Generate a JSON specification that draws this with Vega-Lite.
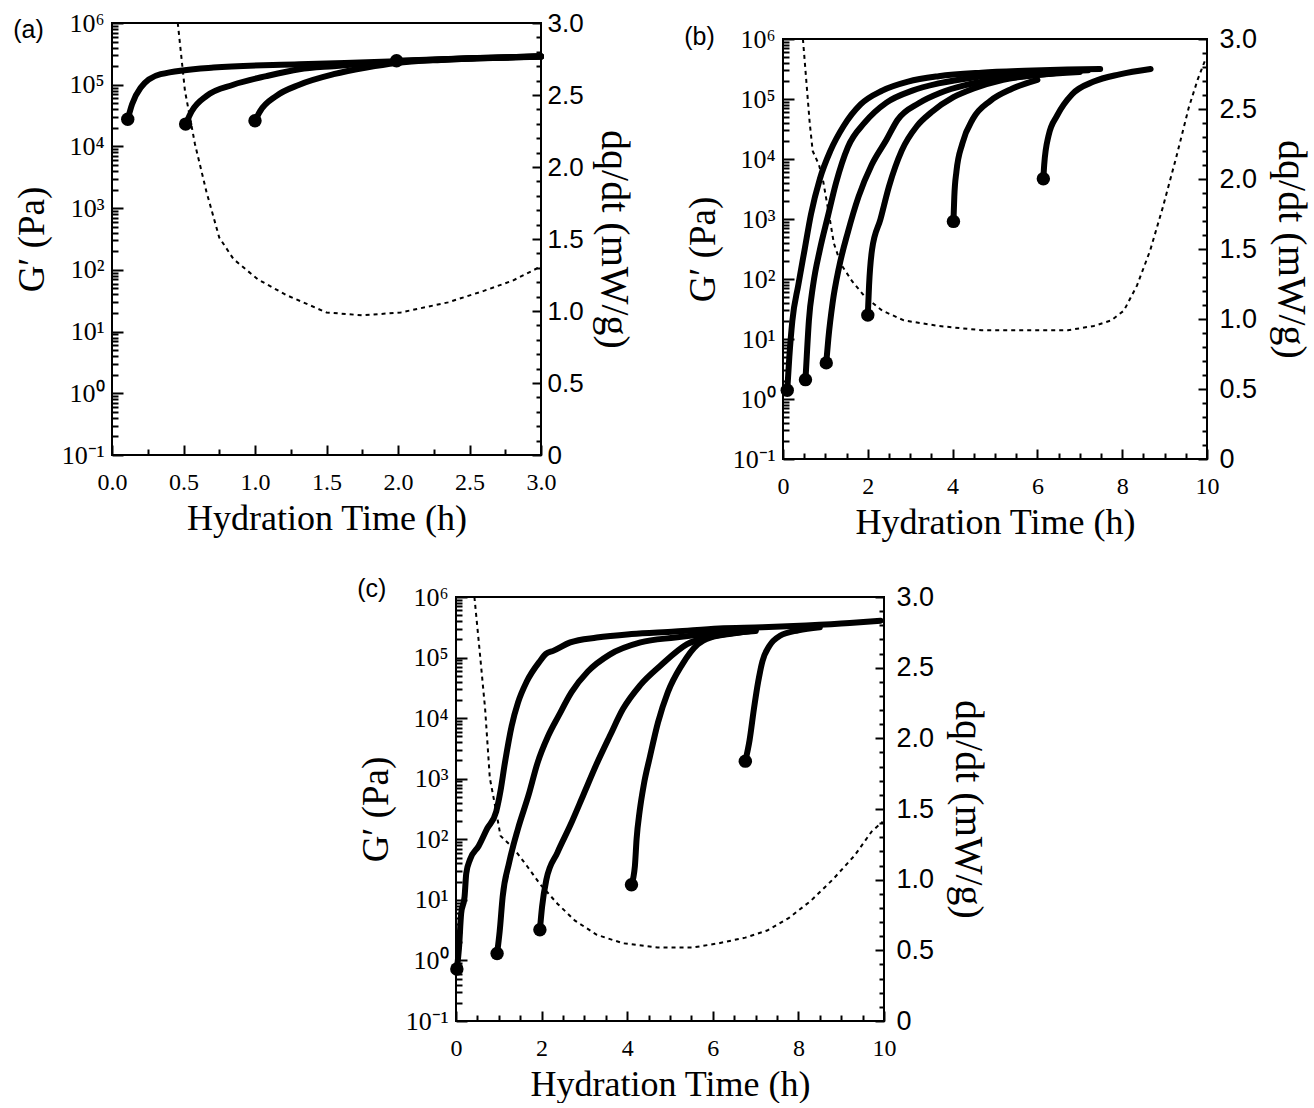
{
  "$schema": "https://vega.github.io/schema/vega-lite/v6.json",
  "background": "white",
  "padding": {"left": 12, "top": 9, "right": 2, "bottom": 0},
  "datasets": {
    "ga": [
      {"curve": "a1", "t": 0.11, "G": 27500}, {"curve": "a1", "t": 0.14, "G": 48000}, {"curve": "a1", "t": 0.2, "G": 89000}, {"curve": "a1", "t": 0.34, "G": 148000}, {"curve": "a1", "t": 0.71, "G": 190000}, {"curve": "a1", "t": 1.31, "G": 214000}, {"curve": "a1", "t": 1.99, "G": 240000}, {"curve": "a1", "t": 2.55, "G": 270000}, {"curve": "a1", "t": 3.0, "G": 288000},
      {"curve": "a2", "t": 0.515, "G": 23000}, {"curve": "a2", "t": 0.557, "G": 37000}, {"curve": "a2", "t": 0.662, "G": 66000}, {"curve": "a2", "t": 0.848, "G": 100000}, {"curve": "a2", "t": 1.08, "G": 138000}, {"curve": "a2", "t": 1.31, "G": 178000}, {"curve": "a2", "t": 1.55, "G": 200000}, {"curve": "a2", "t": 1.99, "G": 235000}, {"curve": "a2", "t": 2.55, "G": 268000}, {"curve": "a2", "t": 3.0, "G": 286000},
      {"curve": "a3", "t": 1.0, "G": 26000}, {"curve": "a3", "t": 1.035, "G": 37000}, {"curve": "a3", "t": 1.15, "G": 66000}, {"curve": "a3", "t": 1.31, "G": 100000}, {"curve": "a3", "t": 1.55, "G": 148000}, {"curve": "a3", "t": 1.78, "G": 190000}, {"curve": "a3", "t": 1.99, "G": 225000}, {"curve": "a3", "t": 2.3, "G": 252000}, {"curve": "a3", "t": 2.55, "G": 266000}, {"curve": "a3", "t": 3.0, "G": 285000},
      {"curve": "a4", "t": 1.99, "G": 245000}, {"curve": "a4", "t": 2.5, "G": 268000}, {"curve": "a4", "t": 3.0, "G": 288000}
    ],
    "qa": [
      {"t": 0.46, "q": 3.0}, {"t": 0.51, "q": 2.53}, {"t": 0.58, "q": 2.16}, {"t": 0.66, "q": 1.83}, {"t": 0.75, "q": 1.51}, {"t": 0.85, "q": 1.36}, {"t": 1.02, "q": 1.22}, {"t": 1.22, "q": 1.11}, {"t": 1.5, "q": 0.99}, {"t": 1.75, "q": 0.97}, {"t": 2.02, "q": 0.99}, {"t": 2.35, "q": 1.06}, {"t": 2.6, "q": 1.14}, {"t": 2.8, "q": 1.21}, {"t": 2.98, "q": 1.3}
    ],
    "gb": [
      {"curve": "b1", "t": 0.1, "G": 1.4}, {"curve": "b1", "t": 0.15, "G": 5.1}, {"curve": "b1", "t": 0.22, "G": 20}, {"curve": "b1", "t": 0.36, "G": 79}, {"curve": "b1", "t": 0.51, "G": 309}, {"curve": "b1", "t": 0.66, "G": 1200}, {"curve": "b1", "t": 0.87, "G": 4680}, {"curve": "b1", "t": 1.12, "G": 13800}, {"curve": "b1", "t": 1.43, "G": 35500}, {"curve": "b1", "t": 1.83, "G": 81300}, {"curve": "b1", "t": 2.34, "G": 138000}, {"curve": "b1", "t": 2.95, "G": 195000}, {"curve": "b1", "t": 3.67, "G": 240000}, {"curve": "b1", "t": 4.68, "G": 275000}, {"curve": "b1", "t": 5.7, "G": 295000}, {"curve": "b1", "t": 6.7, "G": 309000}, {"curve": "b1", "t": 7.48, "G": 316000},
      {"curve": "b2", "t": 0.53, "G": 2.1}, {"curve": "b2", "t": 0.56, "G": 5.1}, {"curve": "b2", "t": 0.61, "G": 20}, {"curve": "b2", "t": 0.71, "G": 79}, {"curve": "b2", "t": 0.87, "G": 309}, {"curve": "b2", "t": 1.06, "G": 1120}, {"curve": "b2", "t": 1.25, "G": 3980}, {"curve": "b2", "t": 1.53, "G": 15800}, {"curve": "b2", "t": 1.93, "G": 40700}, {"curve": "b2", "t": 2.44, "G": 87100}, {"curve": "b2", "t": 3.05, "G": 138000}, {"curve": "b2", "t": 3.67, "G": 182000}, {"curve": "b2", "t": 4.5, "G": 229000}, {"curve": "b2", "t": 5.5, "G": 263000}, {"curve": "b2", "t": 6.5, "G": 288000}, {"curve": "b2", "t": 7.2, "G": 302000},
      {"curve": "b3", "t": 1.02, "G": 4.0}, {"curve": "b3", "t": 1.07, "G": 10.2}, {"curve": "b3", "t": 1.17, "G": 40}, {"curve": "b3", "t": 1.32, "G": 155}, {"curve": "b3", "t": 1.53, "G": 603}, {"curve": "b3", "t": 1.78, "G": 2340}, {"curve": "b3", "t": 2.09, "G": 7940}, {"curve": "b3", "t": 2.44, "G": 20900}, {"curve": "b3", "t": 2.7, "G": 44700}, {"curve": "b3", "t": 3.2, "G": 85000}, {"curve": "b3", "t": 3.7, "G": 126000}, {"curve": "b3", "t": 4.3, "G": 170000}, {"curve": "b3", "t": 5.0, "G": 209000}, {"curve": "b3", "t": 5.8, "G": 245000}, {"curve": "b3", "t": 6.5, "G": 275000},
      {"curve": "b4", "t": 2.0, "G": 25}, {"curve": "b4", "t": 2.03, "G": 79}, {"curve": "b4", "t": 2.1, "G": 309}, {"curve": "b4", "t": 2.3, "G": 1000}, {"curve": "b4", "t": 2.5, "G": 3500}, {"curve": "b4", "t": 2.8, "G": 13800}, {"curve": "b4", "t": 3.16, "G": 35500}, {"curve": "b4", "t": 3.5, "G": 60000}, {"curve": "b4", "t": 4.02, "G": 107000}, {"curve": "b4", "t": 4.48, "G": 148000}, {"curve": "b4", "t": 5.19, "G": 209000}, {"curve": "b4", "t": 6.0, "G": 251000}, {"curve": "b4", "t": 7.0, "G": 282000},
      {"curve": "b5", "t": 4.02, "G": 912}, {"curve": "b5", "t": 4.04, "G": 2340}, {"curve": "b5", "t": 4.09, "G": 6170}, {"curve": "b5", "t": 4.23, "G": 18200}, {"curve": "b5", "t": 4.48, "G": 46800}, {"curve": "b5", "t": 4.89, "G": 93300}, {"curve": "b5", "t": 5.4, "G": 148000}, {"curve": "b5", "t": 6.0, "G": 209000},
      {"curve": "b6", "t": 6.14, "G": 4680}, {"curve": "b6", "t": 6.16, "G": 7940}, {"curve": "b6", "t": 6.26, "G": 24000}, {"curve": "b6", "t": 6.47, "G": 53700}, {"curve": "b6", "t": 6.82, "G": 120000}, {"curve": "b6", "t": 7.33, "G": 195000}, {"curve": "b6", "t": 7.94, "G": 257000}, {"curve": "b6", "t": 8.67, "G": 316000}
    ],
    "qb": [
      {"t": 0.47, "q": 3.0}, {"t": 0.55, "q": 2.7}, {"t": 0.63, "q": 2.4}, {"t": 0.7, "q": 2.2}, {"t": 0.85, "q": 2.1}, {"t": 0.95, "q": 1.98}, {"t": 1.1, "q": 1.72}, {"t": 1.2, "q": 1.54}, {"t": 1.37, "q": 1.39}, {"t": 1.63, "q": 1.27}, {"t": 1.93, "q": 1.16}, {"t": 2.34, "q": 1.06}, {"t": 2.85, "q": 0.99}, {"t": 3.67, "q": 0.95}, {"t": 4.68, "q": 0.92}, {"t": 5.7, "q": 0.92}, {"t": 6.72, "q": 0.92}, {"t": 7.33, "q": 0.95}, {"t": 7.74, "q": 0.99}, {"t": 8.04, "q": 1.06}, {"t": 8.35, "q": 1.24}, {"t": 8.66, "q": 1.49}, {"t": 8.96, "q": 1.8}, {"t": 9.27, "q": 2.15}, {"t": 9.57, "q": 2.51}, {"t": 9.78, "q": 2.71}, {"t": 9.97, "q": 2.86}
    ],
    "gc": [
      {"curve": "c1", "t": 0.02, "G": 0.72}, {"curve": "c1", "t": 0.07, "G": 1.6}, {"curve": "c1", "t": 0.12, "G": 5.9}, {"curve": "c1", "t": 0.2, "G": 11.2}, {"curve": "c1", "t": 0.24, "G": 27.5}, {"curve": "c1", "t": 0.33, "G": 46.8}, {"curve": "c1", "t": 0.53, "G": 77.6}, {"curve": "c1", "t": 0.73, "G": 151}, {"curve": "c1", "t": 0.94, "G": 288}, {"curve": "c1", "t": 1.04, "G": 631}, {"curve": "c1", "t": 1.14, "G": 1780}, {"curve": "c1", "t": 1.3, "G": 7410}, {"curve": "c1", "t": 1.45, "G": 18200}, {"curve": "c1", "t": 1.65, "G": 39800}, {"curve": "c1", "t": 1.96, "G": 87100}, {"curve": "c1", "t": 2.1, "G": 115000}, {"curve": "c1", "t": 2.27, "G": 129000}, {"curve": "c1", "t": 2.67, "G": 178000}, {"curve": "c1", "t": 3.29, "G": 214000}, {"curve": "c1", "t": 4.1, "G": 245000}, {"curve": "c1", "t": 5.12, "G": 269000}, {"curve": "c1", "t": 6.14, "G": 302000}, {"curve": "c1", "t": 7.16, "G": 316000}, {"curve": "c1", "t": 8.18, "G": 339000}, {"curve": "c1", "t": 9.2, "G": 372000}, {"curve": "c1", "t": 9.92, "G": 407000},
      {"curve": "c2", "t": 0.96, "G": 1.3}, {"curve": "c2", "t": 1.02, "G": 3.0}, {"curve": "c2", "t": 1.09, "G": 11.2}, {"curve": "c2", "t": 1.24, "G": 40.7}, {"curve": "c2", "t": 1.45, "G": 151}, {"curve": "c2", "t": 1.7, "G": 550}, {"curve": "c2", "t": 1.9, "G": 1780}, {"curve": "c2", "t": 2.15, "G": 5010}, {"curve": "c2", "t": 2.4, "G": 11000}, {"curve": "c2", "t": 2.7, "G": 26900}, {"curve": "c2", "t": 3.08, "G": 58900}, {"curve": "c2", "t": 3.59, "G": 112000}, {"curve": "c2", "t": 4.31, "G": 178000}, {"curve": "c2", "t": 5.12, "G": 214000}, {"curve": "c2", "t": 6.0, "G": 251000}, {"curve": "c2", "t": 7.0, "G": 288000},
      {"curve": "c3", "t": 1.96, "G": 3.2}, {"curve": "c3", "t": 2.01, "G": 7.6}, {"curve": "c3", "t": 2.11, "G": 21.4}, {"curve": "c3", "t": 2.37, "G": 60.3}, {"curve": "c3", "t": 2.67, "G": 170}, {"curve": "c3", "t": 2.98, "G": 550}, {"curve": "c3", "t": 3.29, "G": 1780}, {"curve": "c3", "t": 3.59, "G": 5010}, {"curve": "c3", "t": 3.9, "G": 14100}, {"curve": "c3", "t": 4.3, "G": 34700}, {"curve": "c3", "t": 4.8, "G": 75900}, {"curve": "c3", "t": 5.4, "G": 166000}, {"curve": "c3", "t": 6.0, "G": 224000}, {"curve": "c3", "t": 7.0, "G": 275000},
      {"curve": "c4", "t": 4.1, "G": 17.8}, {"curve": "c4", "t": 4.18, "G": 36.3}, {"curve": "c4", "t": 4.22, "G": 102}, {"curve": "c4", "t": 4.29, "G": 288}, {"curve": "c4", "t": 4.39, "G": 813}, {"curve": "c4", "t": 4.53, "G": 2290}, {"curve": "c4", "t": 4.72, "G": 8510}, {"curve": "c4", "t": 4.95, "G": 26900}, {"curve": "c4", "t": 5.28, "G": 75900}, {"curve": "c4", "t": 5.65, "G": 166000}, {"curve": "c4", "t": 5.94, "G": 214000}, {"curve": "c4", "t": 6.5, "G": 251000}, {"curve": "c4", "t": 7.0, "G": 282000},
      {"curve": "c5", "t": 6.76, "G": 1950}, {"curve": "c5", "t": 6.86, "G": 4370}, {"curve": "c5", "t": 6.96, "G": 14100}, {"curve": "c5", "t": 7.06, "G": 39800}, {"curve": "c5", "t": 7.16, "G": 87100}, {"curve": "c5", "t": 7.32, "G": 155000}, {"curve": "c5", "t": 7.57, "G": 229000}, {"curve": "c5", "t": 8.0, "G": 282000}, {"curve": "c5", "t": 8.5, "G": 316000}
    ],
    "qc": [
      {"t": 0.43, "q": 3.0}, {"t": 0.53, "q": 2.69}, {"t": 0.68, "q": 2.21}, {"t": 0.79, "q": 1.72}, {"t": 0.94, "q": 1.48}, {"t": 1.04, "q": 1.31}, {"t": 1.35, "q": 1.22}, {"t": 1.65, "q": 1.1}, {"t": 1.96, "q": 0.97}, {"t": 2.37, "q": 0.83}, {"t": 2.78, "q": 0.71}, {"t": 3.29, "q": 0.61}, {"t": 3.9, "q": 0.55}, {"t": 4.71, "q": 0.52}, {"t": 5.53, "q": 0.52}, {"t": 6.14, "q": 0.55}, {"t": 6.76, "q": 0.59}, {"t": 7.27, "q": 0.64}, {"t": 7.78, "q": 0.73}, {"t": 8.29, "q": 0.85}, {"t": 8.8, "q": 1.0}, {"t": 9.31, "q": 1.17}, {"t": 9.71, "q": 1.34}, {"t": 9.97, "q": 1.41}
    ]
  },
  "vconcat": [
    {
      "hconcat": [
        {
          "width": 429, "height": 432,
          "title": {"text": "(a)", "anchor": "start", "frame": "bounds", "offset": -33},
          "layer": [
            {"data": {"name": "ga"},
             "mark": {"type": "line", "color": "black", "strokeWidth": 6, "interpolate": "monotone", "strokeCap": "round"},
             "encoding": {
               "x": {"field": "t", "type": "quantitative", "scale": {"domain": [0, 3], "nice": false}, "axis": {"orient": "bottom", "values": [0, 0.5, 1, 1.5, 2, 2.5, 3], "format": ".1f", "ticks": false, "labelPadding": 15, "title": "Hydration Time (h)", "titlePadding": 7}},
               "y": {"field": "G", "type": "quantitative", "scale": {"type": "log", "domain": [0.1, 1000000], "nice": false}, "axis": {"orient": "left", "values": [0.1, 1, 10, 100, 1000, 10000, 100000, 1000000], "ticks": false, "labelPadding": 8, "labelFontSize": 26, "labelExpr": "'10' + ['⁻¹','⁰','¹','²','³','⁴','⁵','⁶'][round(log(datum.value)/LN10)+1]", "title": "G′ (Pa)", "titlePadding": 10, "titleFontSize": 37}},
               "detail": {"field": "curve", "type": "nominal"}
             }},
            {"data": {"name": "ga"},
             "transform": [{"joinaggregate": [{"op": "min", "field": "t", "as": "t0"}], "groupby": ["curve"]}, {"filter": "datum.t == datum.t0"}],
             "mark": {"type": "circle", "color": "black", "size": 180, "opacity": 1},
             "encoding": {
               "x": {"field": "t", "type": "quantitative", "scale": {"domain": [0, 3], "nice": false}, "axis": {"orient": "bottom", "values": [0, 0.5, 1, 1.5, 2, 2.5, 3], "labels": false, "tickSize": 10, "offset": -10, "title": null}},
               "y": {"field": "G", "type": "quantitative", "scale": {"type": "log", "domain": [0.1, 1000000], "nice": false}, "axis": {"orient": "left", "values": [0.1, 1, 10, 100, 1000, 10000, 100000, 1000000], "labels": false, "tickSize": 11, "offset": -11, "title": null}}
             }},
            {"data": {"name": "qa"},
             "mark": {"type": "line", "color": "black", "strokeWidth": 2, "strokeDash": [4, 4]},
             "encoding": {
               "x": {"field": "t", "type": "quantitative", "scale": {"domain": [0, 3], "nice": false}, "axis": {"orient": "bottom", "values": [0.25, 0.75, 1.25, 1.75, 2.25, 2.75], "labels": false, "tickSize": 6, "offset": -6, "title": null}},
               "y": {"field": "q", "type": "quantitative", "scale": {"domain": [0, 3], "nice": false}, "axis": {"orient": "right", "values": [0, 0.5, 1, 1.5, 2, 2.5, 3], "ticks": false, "labelPadding": 6, "labelFont": "Liberation Sans", "labelFontSize": 26, "labelExpr": "datum.value == 0 ? '0' : format(datum.value, '.1f')", "title": "dq/dt (mW/g)", "titlePadding": 10, "titleFontSize": 40}}
             }},
            {"data": {"name": "qa"},
             "mark": {"type": "line", "opacity": 0},
             "encoding": {
               "x": {"field": "t", "type": "quantitative", "scale": {"domain": [0, 3], "nice": false}, "axis": null},
               "y": {"field": "q", "type": "quantitative", "scale": {"domain": [0, 3], "nice": false}, "axis": {"orient": "right", "values": [0, 0.5, 1, 1.5, 2, 2.5, 3], "labels": false, "tickSize": 9, "offset": -9, "title": null}}
             }},
            {"data": {"name": "ga"},
             "mark": {"type": "line", "opacity": 0},
             "encoding": {
               "x": {"field": "t", "type": "quantitative", "scale": {"domain": [0, 3], "nice": false}, "axis": null},
               "y": {"field": "G", "type": "quantitative", "scale": {"type": "log", "domain": [0.1, 1000000], "nice": false}, "axis": {"orient": "left", "values": [0.2, 0.3, 0.4, 0.5, 0.6, 0.7, 0.8, 0.9, 2, 3, 4, 5, 6, 7, 8, 9, 20, 30, 40, 50, 60, 70, 80, 90, 200, 300, 400, 500, 600, 700, 800, 900, 2000, 3000, 4000, 5000, 6000, 7000, 8000, 9000, 20000, 30000, 40000, 50000, 60000, 70000, 80000, 90000, 200000, 300000, 400000, 500000, 600000, 700000, 800000, 900000], "labels": false, "tickSize": 6, "offset": -6, "title": null}},
               "detail": {"field": "curve", "type": "nominal"}
             }},
            {"data": {"name": "qa"},
             "mark": {"type": "line", "opacity": 0},
             "encoding": {
               "x": {"field": "t", "type": "quantitative", "scale": {"domain": [0, 3], "nice": false}, "axis": null},
               "y": {"field": "q", "type": "quantitative", "scale": {"domain": [0, 3], "nice": false}, "axis": {"orient": "right", "values": [0.1, 0.2, 0.3, 0.4, 0.6, 0.7, 0.8, 0.9, 1.1, 1.2, 1.3, 1.4, 1.6, 1.7, 1.8, 1.9, 2.1, 2.2, 2.3, 2.4, 2.6, 2.7, 2.8, 2.9], "labels": false, "tickSize": 5, "offset": -5, "title": null}}
             }}
          ],
          "resolve": {"scale": {"x": "independent", "y": "independent"}, "axis": {"x": "independent", "y": "independent"}}
        },
        {
          "vconcat": [
            {
              "width": 10, "height": 1,
              "view": {"stroke": null},
              "data": {"values": []},
              "mark": {"type": "point", "opacity": 0}
            },
            {
              "width": 424, "height": 420,
              "title": {"text": "(b)", "anchor": "start", "frame": "bounds", "offset": -25},
              "layer": [
                {"data": {"name": "gb"},
                 "mark": {"type": "line", "color": "black", "strokeWidth": 6, "interpolate": "monotone", "strokeCap": "round"},
                 "encoding": {
                   "x": {"field": "t", "type": "quantitative", "scale": {"domain": [0, 10], "nice": false}, "axis": {"orient": "bottom", "values": [0, 2, 4, 6, 8, 10], "format": "d", "ticks": false, "labelPadding": 15, "title": "Hydration Time (h)", "titlePadding": 7}},
                   "y": {"field": "G", "type": "quantitative", "scale": {"type": "log", "domain": [0.1, 1000000], "nice": false}, "axis": {"orient": "left", "values": [0.1, 1, 10, 100, 1000, 10000, 100000, 1000000], "ticks": false, "labelPadding": 8, "labelFontSize": 26, "labelExpr": "'10' + ['⁻¹','⁰','¹','²','³','⁴','⁵','⁶'][round(log(datum.value)/LN10)+1]", "title": "G′ (Pa)", "titlePadding": 10, "titleFontSize": 37}},
                   "detail": {"field": "curve", "type": "nominal"}
                 }},
                {"data": {"name": "gb"},
                 "transform": [{"joinaggregate": [{"op": "min", "field": "t", "as": "t0"}], "groupby": ["curve"]}, {"filter": "datum.t == datum.t0"}],
                 "mark": {"type": "circle", "color": "black", "size": 180, "opacity": 1},
                 "encoding": {
                   "x": {"field": "t", "type": "quantitative", "scale": {"domain": [0, 10], "nice": false}, "axis": {"orient": "bottom", "values": [0, 2, 4, 6, 8, 10], "labels": false, "tickSize": 10, "offset": -10, "title": null}},
                   "y": {"field": "G", "type": "quantitative", "scale": {"type": "log", "domain": [0.1, 1000000], "nice": false}, "axis": {"orient": "left", "values": [0.1, 1, 10, 100, 1000, 10000, 100000, 1000000], "labels": false, "tickSize": 11, "offset": -11, "title": null}}
                 }},
                {"data": {"name": "qb"},
                 "mark": {"type": "line", "color": "black", "strokeWidth": 2, "strokeDash": [4, 4]},
                 "encoding": {
                   "x": {"field": "t", "type": "quantitative", "scale": {"domain": [0, 10], "nice": false}, "axis": {"orient": "bottom", "values": [0.5, 1, 1.5, 2.5, 3, 3.5, 4.5, 5, 5.5, 6.5, 7, 7.5, 8.5, 9, 9.5], "labels": false, "tickSize": 6, "offset": -6, "title": null}},
                   "y": {"field": "q", "type": "quantitative", "scale": {"domain": [0, 3], "nice": false}, "axis": {"orient": "right", "values": [0, 0.5, 1, 1.5, 2, 2.5, 3], "ticks": false, "labelPadding": 12, "labelFont": "Liberation Sans", "labelFontSize": 27, "labelExpr": "datum.value == 0 ? '0' : format(datum.value, '.1f')", "title": "dq/dt (mW/g)", "titlePadding": 14, "titleFontSize": 40}}
                 }},
                {"data": {"name": "qb"},
                 "mark": {"type": "line", "opacity": 0},
                 "encoding": {
                   "x": {"field": "t", "type": "quantitative", "scale": {"domain": [0, 10], "nice": false}, "axis": null},
                   "y": {"field": "q", "type": "quantitative", "scale": {"domain": [0, 3], "nice": false}, "axis": {"orient": "right", "values": [0, 0.5, 1, 1.5, 2, 2.5, 3], "labels": false, "tickSize": 9, "offset": -9, "title": null}}
                 }},
                {"data": {"name": "gb"},
                 "mark": {"type": "line", "opacity": 0},
                 "encoding": {
                   "x": {"field": "t", "type": "quantitative", "scale": {"domain": [0, 10], "nice": false}, "axis": null},
                   "y": {"field": "G", "type": "quantitative", "scale": {"type": "log", "domain": [0.1, 1000000], "nice": false}, "axis": {"orient": "left", "values": [0.2, 0.3, 0.4, 0.5, 0.6, 0.7, 0.8, 0.9, 2, 3, 4, 5, 6, 7, 8, 9, 20, 30, 40, 50, 60, 70, 80, 90, 200, 300, 400, 500, 600, 700, 800, 900, 2000, 3000, 4000, 5000, 6000, 7000, 8000, 9000, 20000, 30000, 40000, 50000, 60000, 70000, 80000, 90000, 200000, 300000, 400000, 500000, 600000, 700000, 800000, 900000], "labels": false, "tickSize": 6, "offset": -6, "title": null}},
                   "detail": {"field": "curve", "type": "nominal"}
                 }},
                {"data": {"name": "qb"},
                 "mark": {"type": "line", "opacity": 0},
                 "encoding": {
                   "x": {"field": "t", "type": "quantitative", "scale": {"domain": [0, 10], "nice": false}, "axis": null},
                   "y": {"field": "q", "type": "quantitative", "scale": {"domain": [0, 3], "nice": false}, "axis": {"orient": "right", "values": [0.1, 0.2, 0.3, 0.4, 0.6, 0.7, 0.8, 0.9, 1.1, 1.2, 1.3, 1.4, 1.6, 1.7, 1.8, 1.9, 2.1, 2.2, 2.3, 2.4, 2.6, 2.7, 2.8, 2.9], "labels": false, "tickSize": 5, "offset": -5, "title": null}}
                 }}
              ],
              "resolve": {"scale": {"x": "independent", "y": "independent"}, "axis": {"x": "independent", "y": "independent"}}
            }
          ],
          "spacing": 0
        }
      ],
      "spacing": 48
    },
    {
      "hconcat": [
        {
          "width": 244, "height": 10,
          "view": {"stroke": null},
          "data": {"values": []},
          "mark": {"type": "point", "opacity": 0}
        },
        {
          "width": 428, "height": 424,
          "title": {"text": "(c)", "anchor": "start", "frame": "bounds", "offset": -19},
          "layer": [
            {"data": {"name": "gc"},
             "mark": {"type": "line", "color": "black", "strokeWidth": 6, "interpolate": "monotone", "strokeCap": "round"},
             "encoding": {
               "x": {"field": "t", "type": "quantitative", "scale": {"domain": [0, 10], "nice": false}, "axis": {"orient": "bottom", "values": [0, 2, 4, 6, 8, 10], "format": "d", "ticks": false, "labelPadding": 15, "title": "Hydration Time (h)", "titlePadding": 7}},
               "y": {"field": "G", "type": "quantitative", "scale": {"type": "log", "domain": [0.1, 1000000], "nice": false}, "axis": {"orient": "left", "values": [0.1, 1, 10, 100, 1000, 10000, 100000, 1000000], "ticks": false, "labelPadding": 8, "labelFontSize": 26, "labelExpr": "'10' + ['⁻¹','⁰','¹','²','³','⁴','⁵','⁶'][round(log(datum.value)/LN10)+1]", "title": "G′ (Pa)", "titlePadding": 10, "titleFontSize": 37}},
               "detail": {"field": "curve", "type": "nominal"}
             }},
            {"data": {"name": "gc"},
             "transform": [{"joinaggregate": [{"op": "min", "field": "t", "as": "t0"}], "groupby": ["curve"]}, {"filter": "datum.t == datum.t0"}],
             "mark": {"type": "circle", "color": "black", "size": 180, "opacity": 1},
             "encoding": {
               "x": {"field": "t", "type": "quantitative", "scale": {"domain": [0, 10], "nice": false}, "axis": {"orient": "bottom", "values": [0, 2, 4, 6, 8, 10], "labels": false, "tickSize": 10, "offset": -10, "title": null}},
               "y": {"field": "G", "type": "quantitative", "scale": {"type": "log", "domain": [0.1, 1000000], "nice": false}, "axis": {"orient": "left", "values": [0.1, 1, 10, 100, 1000, 10000, 100000, 1000000], "labels": false, "tickSize": 11, "offset": -11, "title": null}}
             }},
            {"data": {"name": "qc"},
             "mark": {"type": "line", "color": "black", "strokeWidth": 2, "strokeDash": [4, 4]},
             "encoding": {
               "x": {"field": "t", "type": "quantitative", "scale": {"domain": [0, 10], "nice": false}, "axis": {"orient": "bottom", "values": [0.5, 1, 1.5, 2.5, 3, 3.5, 4.5, 5, 5.5, 6.5, 7, 7.5, 8.5, 9, 9.5], "labels": false, "tickSize": 6, "offset": -6, "title": null}},
               "y": {"field": "q", "type": "quantitative", "scale": {"domain": [0, 3], "nice": false}, "axis": {"orient": "right", "values": [0, 0.5, 1, 1.5, 2, 2.5, 3], "ticks": false, "labelPadding": 12, "labelFont": "Liberation Sans", "labelFontSize": 27, "labelExpr": "datum.value == 0 ? '0' : format(datum.value, '.1f')", "title": "dq/dt (mW/g)", "titlePadding": 14, "titleFontSize": 40}}
             }},
            {"data": {"name": "qc"},
             "mark": {"type": "line", "opacity": 0},
             "encoding": {
               "x": {"field": "t", "type": "quantitative", "scale": {"domain": [0, 10], "nice": false}, "axis": null},
               "y": {"field": "q", "type": "quantitative", "scale": {"domain": [0, 3], "nice": false}, "axis": {"orient": "right", "values": [0, 0.5, 1, 1.5, 2, 2.5, 3], "labels": false, "tickSize": 9, "offset": -9, "title": null}}
             }},
            {"data": {"name": "gc"},
             "mark": {"type": "line", "opacity": 0},
             "encoding": {
               "x": {"field": "t", "type": "quantitative", "scale": {"domain": [0, 10], "nice": false}, "axis": null},
               "y": {"field": "G", "type": "quantitative", "scale": {"type": "log", "domain": [0.1, 1000000], "nice": false}, "axis": {"orient": "left", "values": [0.2, 0.3, 0.4, 0.5, 0.6, 0.7, 0.8, 0.9, 2, 3, 4, 5, 6, 7, 8, 9, 20, 30, 40, 50, 60, 70, 80, 90, 200, 300, 400, 500, 600, 700, 800, 900, 2000, 3000, 4000, 5000, 6000, 7000, 8000, 9000, 20000, 30000, 40000, 50000, 60000, 70000, 80000, 90000, 200000, 300000, 400000, 500000, 600000, 700000, 800000, 900000], "labels": false, "tickSize": 6, "offset": -6, "title": null}},
               "detail": {"field": "curve", "type": "nominal"}
             }},
            {"data": {"name": "qc"},
             "mark": {"type": "line", "opacity": 0},
             "encoding": {
               "x": {"field": "t", "type": "quantitative", "scale": {"domain": [0, 10], "nice": false}, "axis": null},
               "y": {"field": "q", "type": "quantitative", "scale": {"domain": [0, 3], "nice": false}, "axis": {"orient": "right", "values": [0.1, 0.2, 0.3, 0.4, 0.6, 0.7, 0.8, 0.9, 1.1, 1.2, 1.3, 1.4, 1.6, 1.7, 1.8, 1.9, 2.1, 2.2, 2.3, 2.4, 2.6, 2.7, 2.8, 2.9], "labels": false, "tickSize": 5, "offset": -5, "title": null}}
             }}
          ],
          "resolve": {"scale": {"x": "independent", "y": "independent"}, "axis": {"x": "independent", "y": "independent"}}
        }
      ],
      "spacing": 0
    }
  ],
  "spacing": 35,
  "config": {
    "view": {"stroke": "black", "strokeWidth": 2},
    "font": "Liberation Serif",
    "axis": {"domain": false, "grid": false, "labelColor": "black", "titleColor": "black", "tickColor": "black", "tickWidth": 2, "labelFont": "Liberation Serif", "titleFont": "Liberation Serif", "titleFontWeight": "normal", "labelFontSize": 24, "titleFontSize": 36, "labelFlush": false, "labelOverlap": false, "labelBound": false},
    "title": {"font": "Liberation Sans", "fontSize": 25, "fontWeight": "normal", "color": "black"}
  }
}
